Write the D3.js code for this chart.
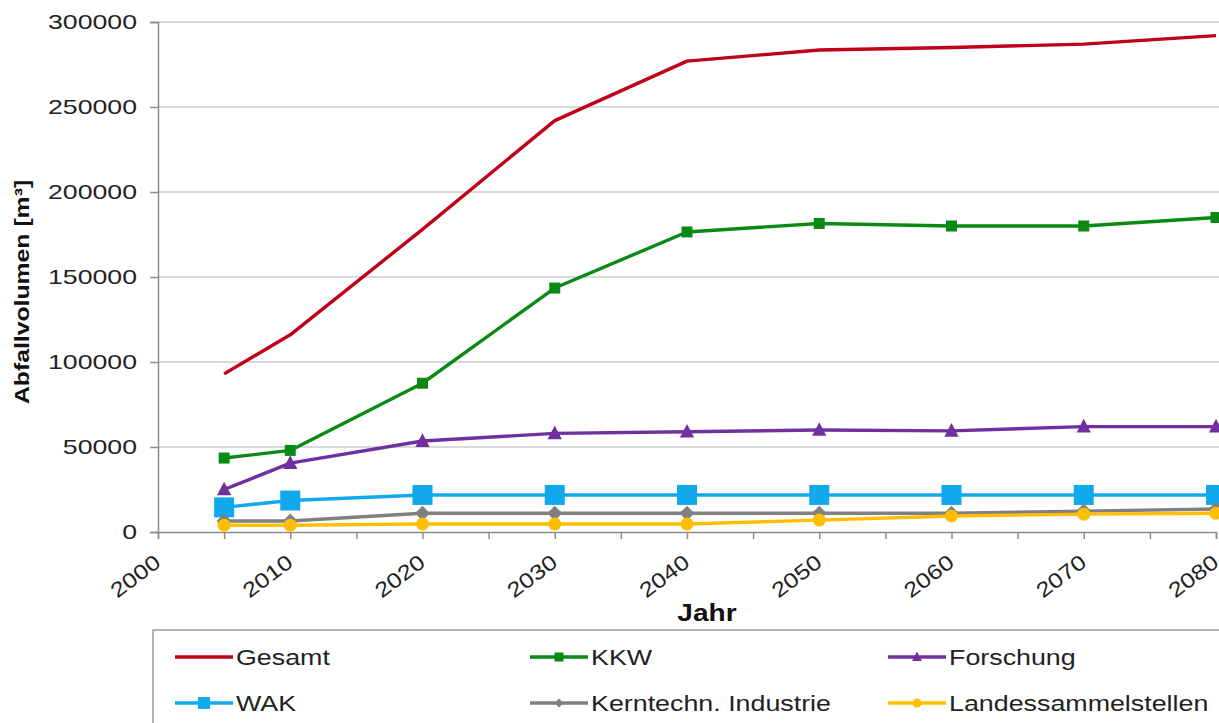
<!DOCTYPE html>
<html>
<head>
<meta charset="utf-8">
<script src="https://cdn.jsdelivr.net/npm/d3@7"></script>
<style>
  body { margin: 0; background: #fff; }
  text { font-family: "Liberation Sans", Arial, sans-serif; }
</style>
</head>
<body>
<div id="chart"></div>
<script>
// data
const years = [2005, 2010, 2020, 2030, 2040, 2050, 2060, 2070, 2080];
const gesamt = [93000, 116000, 178000, 242000, 277000, 283500, 285000, 287000, 292000];
const kkw = [43500, 48000, 87500, 143500, 176500, 181500, 180000, 180000, 185000];
const forschung = [25000, 40500, 53500, 58000, 59000, 60000, 59500, 62000, 62000];
const wak = [14500, 18500, 21800, 21800, 21800, 21800, 21800, 21800, 21800];
const kerntechn = [6500, 6500, 11000, 11000, 11000, 11000, 11000, 12300, 13500];
const landes = [4000, 4000, 4700, 4700, 4700, 7000, 9400, 10500, 11000];
const yTicks = [0, 50000, 100000, 150000, 200000, 250000, 300000];
const xLabels = [2000, 2010, 2020, 2030, 2040, 2050, 2060, 2070, 2080];

const series = [
  { name: "Gesamt", values: gesamt, color: "#be0019", marker: null },
  { name: "KKW", values: kkw, color: "#0a8a14", marker: "square", size: 11 },
  { name: "Forschung", values: forschung, color: "#7030a0", marker: "triangle", size: 13 },
  { name: "WAK", values: wak, color: "#12a8ec", marker: "square", size: 20 },
  { name: "Kerntechn. Industrie", values: kerntechn, color: "#808080", marker: "diamond", size: 15 },
  { name: "Landessammelstellen", values: landes, color: "#ffbf00", marker: "circle", size: 13 }
];

const W = 1219, H = 723;
const x = d3.scaleLinear().domain([2000, 2080]).range([158, 1216]);
const y = d3.scaleLinear().domain([0, 300000]).range([532, 22]);

const svg = d3.select("#chart").append("svg")
  .attr("width", W).attr("height", H);

// the text in the picture is drawn wide, so stretch it a bit
function label(g, px, py, str, opt) {
  const t = g.append("text")
    .attr("transform", `translate(${px},${py}) ${opt.rotate ? "rotate(" + opt.rotate + ")" : ""} scale(${opt.sx || 1},1)`)
    .attr("text-anchor", opt.anchor || "start")
    .attr("dy", opt.dy || "0.35em")
    .attr("font-size", opt.size)
    .attr("font-weight", opt.bold ? "bold" : "normal")
    .attr("fill", opt.fill || "#222")
    .text(str);
  return t;
}

// grid
svg.append("g").selectAll("line")
  .data(yTicks.slice(1))
  .enter().append("line")
  .attr("x1", 158).attr("x2", W)
  .attr("y1", d => y(d)).attr("y2", d => y(d))
  .attr("stroke", "#cccccc").attr("stroke-width", 1.5);

// y axis
const yAxis = svg.append("g")
  .attr("transform", "translate(158,0)")
  .call(d3.axisLeft(y).tickValues(yTicks).tickSize(8).tickFormat(""));
yAxis.select(".domain").attr("stroke", "#8c8c8c").attr("stroke-width", 1.5);
yAxis.selectAll(".tick line").attr("stroke", "#8c8c8c").attr("stroke-width", 1.5);

const yLab = svg.append("g");
yTicks.forEach(v => label(yLab, 137, y(v), d3.format("d")(v), { size: 21, sx: 1.27, anchor: "end" }));

// x axis
const xAxis = svg.append("g")
  .attr("transform", "translate(0,532)")
  .call(d3.axisBottom(x).tickValues(d3.range(2000, 2085, 5)).tickSize(7).tickFormat(""));
xAxis.select(".domain").attr("stroke", "#8c8c8c").attr("stroke-width", 1.5);
xAxis.selectAll(".tick line").attr("stroke", "#8c8c8c").attr("stroke-width", 1.5);

const xLab = svg.append("g");
xLabels.forEach(v => label(xLab, x(v) - 5, 553, v, { size: 21, sx: 1.2, anchor: "end", rotate: -37, dy: "0.72em" }));

// axis titles
label(svg, 707, 613, "Jahr", { size: 24, sx: 1.17, anchor: "middle", bold: true, fill: "#111" });
label(svg, 22, 292, "Abfallvolumen [m³]", { size: 21, sx: 1.18, anchor: "middle", bold: true, fill: "#111", rotate: -90 });

// markers
function drawMarker(g, m, cx, cy, color) {
  const s = m.size;
  if (m.marker === "square") {
    g.append("rect").attr("x", cx - s / 2).attr("y", cy - s / 2)
      .attr("width", s).attr("height", s).attr("fill", color);
  } else if (m.marker === "triangle") {
    g.append("path")
      .attr("d", `M${cx},${cy - s * 0.6}L${cx + s * 0.55},${cy + s * 0.45}L${cx - s * 0.55},${cy + s * 0.45}Z`)
      .attr("fill", color);
  } else if (m.marker === "diamond") {
    g.append("path")
      .attr("d", `M${cx},${cy - s / 2}L${cx + s / 2},${cy}L${cx},${cy + s / 2}L${cx - s / 2},${cy}Z`)
      .attr("fill", color);
  } else if (m.marker === "circle") {
    g.append("circle").attr("cx", cx).attr("cy", cy).attr("r", s / 2).attr("fill", color);
  }
}

const line = d3.line().x((d, i) => x(years[i])).y(d => y(d));

series.forEach(s => {
  const g = svg.append("g");
  g.append("path")
    .attr("d", line(s.values))
    .attr("fill", "none")
    .attr("stroke", s.color)
    .attr("stroke-width", 3.4)
    .attr("stroke-linejoin", "round");
  if (s.marker) {
    s.values.forEach((v, i) => drawMarker(g, s, x(years[i]), y(v), s.color));
  }
});

// legend
const legend = svg.append("g");
legend.append("rect")
  .attr("x", 153).attr("y", 630).attr("width", 1080).attr("height", 110)
  .attr("fill", "#fff").attr("stroke", "#9a9a9a").attr("stroke-width", 1.5);

const colX = [175, 530, 888];
const rowY = [657, 703];
series.forEach((s, i) => {
  const lx = colX[i % 3], ly = rowY[Math.floor(i / 3)];
  const g = legend.append("g");
  g.append("line")
    .attr("x1", lx).attr("x2", lx + 58).attr("y1", ly).attr("y2", ly)
    .attr("stroke", s.color).attr("stroke-width", 3.4);
  if (s.marker) {
    drawMarker(g, { marker: s.marker, size: s.marker === "square" && s.size > 15 ? 12 : 9 }, lx + 29, ly, s.color);
  }
  label(g, lx + 61, ly, s.name, { size: 22, sx: 1.22 });
});
</script>
</body>
</html>
